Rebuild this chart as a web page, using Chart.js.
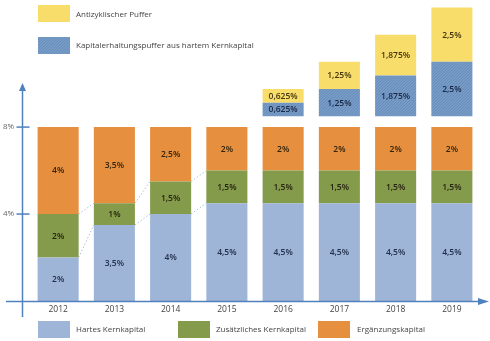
<!DOCTYPE html>
<html>
<head>
<meta charset="utf-8">
<script src="https://cdn.jsdelivr.net/npm/chart.js@4/dist/chart.umd.min.js"></script>
<style>
  html, body { margin: 0; padding: 0; background: #fff; }
  #wrap { position: relative; width: 490px; height: 341px; overflow: hidden; }
  #capitalChart { position: absolute; left: 0; top: 0; }
  .key { position: absolute; font: 8px "Open Sans", sans-serif; color: #444; white-space: nowrap; }
  .sw { position: absolute; width: 32px; height: 17px; }
</style>
</head>
<body>
<div id="wrap">
  <canvas id="capitalChart" width="490" height="341"></canvas>
  <div class="sw" style="left:38px;top:5px;background:#f9dd6b"></div>
  <div class="key" style="left:76px;top:8px">Antizyklischer Puffer</div>
  <div class="sw" id="hatchKey" style="left:38px;top:37px"></div>
  <div class="key" style="left:76px;top:39px">Kapitalerhaltungspuffer aus hartem Kernkapital</div>
  <div class="sw" style="left:38px;top:321px;background:#9fb5d8"></div>
  <div class="key" style="left:76px;top:323px">Hartes Kernkapital</div>
  <div class="sw" style="left:178px;top:321px;background:#849b4c"></div>
  <div class="key" style="left:216px;top:323px">Zusätzliches Kernkapital</div>
  <div class="sw" style="left:318px;top:321px;background:#e68f3f"></div>
  <div class="key" style="left:357px;top:323px">Ergänzungskapital</div>
</div>
<script>
const years = ['2012', '2013', '2014', '2015', '2016', '2017', '2018', '2019'];
const hartes = [2, 3.5, 4, 4.5, 4.5, 4.5, 4.5, 4.5];
const zusaetzlich = [2, 1, 1.5, 1.5, 1.5, 1.5, 1.5, 1.5];
const ergaenzung = [4, 3.5, 2.5, 2, 2, 2, 2, 2];
const abstand = [0, 0, 0, 0, 0.5, 0.5, 0.5, 0.5];
const erhaltung = [0, 0, 0, 0, 0.625, 1.25, 1.875, 2.5];
const antizyklisch = [0, 0, 0, 0, 0.625, 1.25, 1.875, 2.5];
const yTicks = [4, 8];

const AXIS = '#4f81bd';

function hatchPattern(ctx) {
    const c = document.createElement('canvas');
    c.width = 3; c.height = 3;
    const g = c.getContext('2d');
    g.fillStyle = '#769bc6';
    g.fillRect(0, 0, 3, 3);
    g.strokeStyle = '#6589b6';
    g.lineWidth = 0.8;
    g.beginPath();
    g.moveTo(0, 3); g.lineTo(3, 0);
    g.moveTo(-1, 1); g.lineTo(1, -1);
    g.moveTo(2, 4); g.lineTo(4, 2);
    g.stroke();
    return ctx.createPattern(c, 'repeat');
}

function fmt(v) {
    return String(v).replace('.', ',') + '%';
}

// axes with arrows, tick labels, year labels, dotted connectors and value labels
const decorations = {
    id: 'decorations',
    beforeDatasetsDraw(chart) {
        const ctx = chart.ctx;
        const y = chart.scales.y;
        const meta0 = chart.getDatasetMeta(0);
        ctx.save();
        ctx.strokeStyle = '#a9c0e2';
        ctx.lineWidth = 1;
        ctx.setLineDash([1.5, 2]);
        const levels = [hartes, hartes.map((v, i) => v + zusaetzlich[i])];
        levels.forEach(arr => {
            for (let i = 0; i < arr.length - 1; i++) {
                if (arr[i] === arr[i + 1]) continue;
                const a = meta0.data[i], b = meta0.data[i + 1];
                ctx.beginPath();
                ctx.moveTo(a.x + a.width / 2, y.getPixelForValue(arr[i]));
                ctx.lineTo(b.x - b.width / 2, y.getPixelForValue(arr[i + 1]));
                ctx.stroke();
            }
        });
        ctx.restore();
    },
    afterDatasetsDraw(chart) {
        const ctx = chart.ctx;
        const y = chart.scales.y;
        const area = chart.chartArea;
        const y0 = y.getPixelForValue(0);
        const ax = area.left - 7.5;
        ctx.save();
        ctx.strokeStyle = AXIS;
        ctx.fillStyle = AXIS;
        ctx.lineWidth = 1.5;
        // y axis
        ctx.beginPath();
        ctx.moveTo(ax, y0 + 16);
        ctx.lineTo(ax, 90);
        ctx.stroke();
        ctx.beginPath();
        ctx.moveTo(ax, 83); ctx.lineTo(ax - 3.5, 91); ctx.lineTo(ax + 3.5, 91);
        ctx.closePath(); ctx.fill();
        // x axis
        ctx.beginPath();
        ctx.moveTo(6, y0 + 0.5);
        ctx.lineTo(480, y0 + 0.5);
        ctx.stroke();
        ctx.beginPath();
        ctx.moveTo(489, y0 + 0.5); ctx.lineTo(478, y0 - 3); ctx.lineTo(478, y0 + 4);
        ctx.closePath(); ctx.fill();
        // y ticks
        ctx.font = '8px "Open Sans", sans-serif';
        ctx.textBaseline = 'middle';
        yTicks.forEach(t => {
            const py = y.getPixelForValue(t);
            ctx.beginPath();
            ctx.moveTo(ax - 6, py); ctx.lineTo(ax + 7, py);
            ctx.stroke();
            ctx.fillStyle = '#666';
            ctx.textAlign = 'left';
            ctx.fillText(fmt(t), 3, py);
        });
        // year labels
        const meta0 = chart.getDatasetMeta(0);
        ctx.fillStyle = '#444';
        ctx.textAlign = 'center';
        ctx.font = '8.5px "Open Sans", sans-serif';
        years.forEach((yr, i) => ctx.fillText(yr, meta0.data[i].x, y0 + 9));
        // value labels
        ctx.font = '600 8.5px "Open Sans", sans-serif';
        chart.data.datasets.forEach((ds, di) => {
            if (!ds.labelColor) return;
            const meta = chart.getDatasetMeta(di);
            meta.data.forEach((bar, i) => {
                const v = ds.data[i];
                if (!v) return;
                ctx.fillStyle = ds.labelColor;
                ctx.fillText(fmt(v), bar.x, (bar.y + bar.base) / 2 + 0.5);
            });
        });
        ctx.restore();
    }
};

window.onload = function() {
    const ctx = document.getElementById('capitalChart').getContext('2d');
    const hatch = hatchPattern(ctx);
    const keyCanvas = document.createElement('canvas');
    keyCanvas.width = 32; keyCanvas.height = 17;
    const kc = keyCanvas.getContext('2d');
    kc.fillStyle = hatchPattern(kc);
    kc.fillRect(0, 0, 32, 17);
    document.getElementById('hatchKey').appendChild(keyCanvas);

    const capitalChart = new Chart(ctx, {
        type: 'bar',
        data: {
            labels: years,
            datasets: [
                { label: 'Hartes Kernkapital', data: hartes, backgroundColor: '#9fb5d8', labelColor: '#22304c' },
                { label: 'Zusätzliches Kernkapital', data: zusaetzlich, backgroundColor: '#849b4c', labelColor: '#262410' },
                { label: 'Ergänzungskapital', data: ergaenzung, backgroundColor: '#e68f3f', labelColor: '#33240c' },
                { label: '', data: abstand, backgroundColor: 'rgba(0,0,0,0)' },
                { label: 'Kapitalerhaltungspuffer aus hartem Kernkapital', data: erhaltung, backgroundColor: hatch, labelColor: '#1a2846' },
                { label: 'Antizyklischer Puffer', data: antizyklisch, backgroundColor: '#f9dd6b', labelColor: '#43350e' }
            ]
        },
        options: {
            responsive: false,
            animation: false,
            layout: { padding: { left: 30, right: 10, top: 1, bottom: 40 } },
            datasets: { bar: { categoryPercentage: 1, barPercentage: 0.73, borderWidth: 0 } },
            plugins: {
                legend: { display: false },
                tooltip: { enabled: false }
            },
            scales: {
                x: { stacked: true, display: false },
                y: { stacked: true, display: false, min: 0, max: 13.8 }
            }
        },
        plugins: [decorations]
    });
};
</script>
</body>
</html>
